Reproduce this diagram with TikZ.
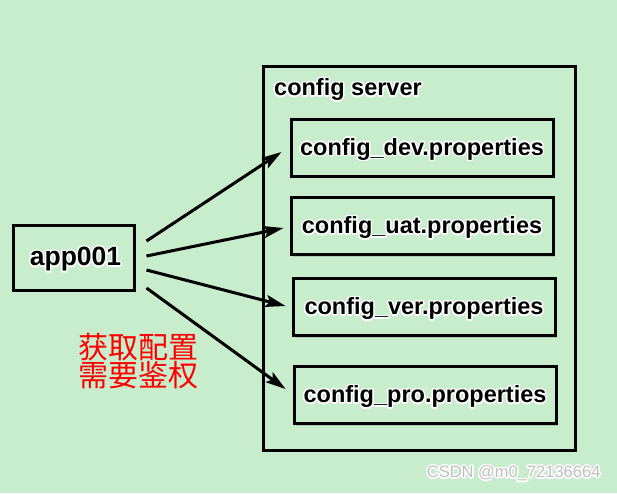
\documentclass[tikz,border=0pt]{standalone}
\usepackage{fontspec}
\setmainfont{Liberation Sans}
\newfontfamily\cjk{Noto Sans CJK SC}
\usepackage{contour}
\contourlength{1.4pt}
\usetikzlibrary{shadows}
\usetikzlibrary{positioning}
\usetikzlibrary{arrows.meta}
\definecolor{eyegreen}{RGB}{199,237,204}
\newcommand{\halo}[1]{\contour{white}{#1}}

\begin{document}
\begin{tikzpicture}
    [x=1pt, y=1pt,
    box/.style={draw=black, line width=3pt, fill=eyegreen, drop shadow={shadow xshift=2pt, shadow yshift=-2pt, opacity=0.35}},
    filebox/.style={box, minimum width=262pt, minimum height=57pt},
    boxtext/.style={font=\bfseries\fontsize{23.5}{26}\selectfont, text=black, yshift=-2.5pt},
    arr/.style={black, line width=3pt, -{Stealth[length=20pt, width=12pt, inset=4pt]}}]

    \fill [eyegreen] (0,0) rectangle (617,-493);
    \useasboundingbox (0,0) rectangle (617,-493);

    % left side
    \node [box, minimum width=121pt, minimum height=65pt] (app) at (73.5,-257.5) {};
    \node [boxtext, font=\bfseries\fontsize{26.5}{28}\selectfont] (apptext) at ([xshift=2pt]app.center) {\halo{app001}};

    % config server with the four files
    \node [box, minimum width=312pt, minimum height=384pt] (server) at (419,-258) {};
    \node [boxtext, anchor=west, inner sep=0pt] (title) at (274,-88) {\halo{config server}};

    \node [filebox] (dev) at (422,-147.5) {};
    \node [boxtext] (devtext) at (dev.center) {\halo{config\_dev.properties}};
    \node [filebox] (uat) at (422,-226) {};
    \node [boxtext] (uattext) at (uat.center) {\halo{config\_uat.properties}};
    \node [filebox] (ver) at (424,-307) {};
    \node [boxtext] (vertext) at (ver.center) {\halo{config\_ver.properties}};
    \node [filebox] (pro) at (425,-395) {};
    \node [boxtext] (protext) at (pro.center) {\halo{config\_pro.properties}};

    % requests
    \draw [arr] ([xshift=11pt, yshift=16.5pt]app.east) -- ([xshift=-8pt, yshift=-4.5pt]dev.west);
    \draw [arr] ([xshift=11pt, yshift=1.5pt]app.east) -- ([xshift=-6pt, yshift=-2pt]uat.west);
    \draw [arr] ([xshift=11pt, yshift=-12.5pt]app.east) -- ([xshift=-6pt, yshift=1pt]ver.west);
    \draw [arr] ([xshift=11pt, yshift=-30.5pt]app.east) -- ([xshift=-7pt, yshift=6pt]pro.west);

    \node [text=red, align=center, font=\cjk\fontsize{30}{28.5}\selectfont] (auth) at (138.5,-361) {获取配置\\需要鉴权};

    \node [text=black!25, anchor=east, font=\fontsize{16.5}{18}\selectfont] (mark) at (604,-474) {\halo{CSDN @m0\_72136664}};
\end{tikzpicture}
\end{document}
